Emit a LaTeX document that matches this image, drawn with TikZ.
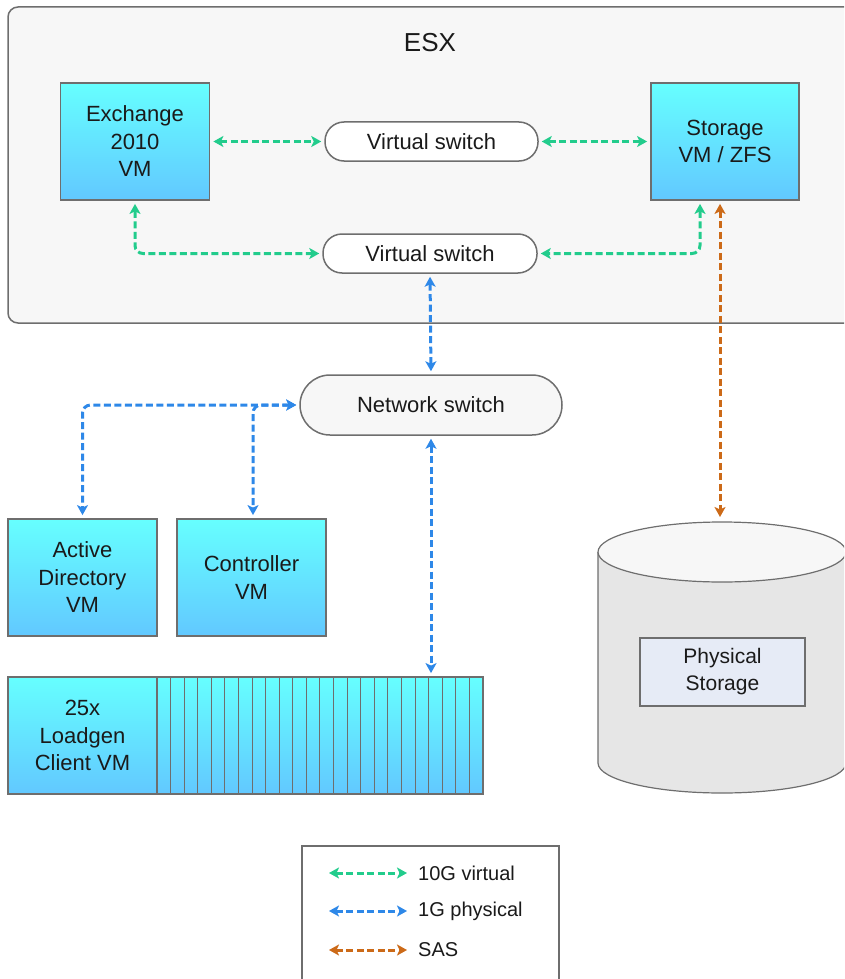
\documentclass[tikz,border=0pt]{standalone}
\usepackage{fontspec}
\setmainfont{Liberation Sans}
\usetikzlibrary{arrows.meta}

\definecolor{vmtop}{HTML}{66FFFF}
\definecolor{vmbot}{HTML}{62C8FF}
\definecolor{boxline}{HTML}{6E6E6E}
\definecolor{esxfill}{HTML}{F7F7F7}
\definecolor{cylfill}{HTML}{E6E6E6}
\definecolor{storefill}{HTML}{E6EBF6}
\definecolor{virtgreen}{HTML}{22CC8C}
\definecolor{physblue}{HTML}{2E88E8}
\definecolor{sasorange}{HTML}{CC6A18}
\definecolor{textcol}{HTML}{1A1A1A}

\newcommand\vmfont{\fontsize{22}{27.5}\selectfont}

\begin{document}
\begin{tikzpicture}[x=1pt,y=-1pt,
  every node/.style={text=textcol},
  vmbox/.style={draw=boxline, line width=1.8pt, top color=vmtop, bottom color=vmbot,
    minimum width=149pt, minimum height=117pt, align=center, font=\vmfont, inner sep=0pt},
  switchbox/.style={draw=boxline, line width=1.5pt, fill=white, rounded corners=19pt,
    minimum width=213pt, minimum height=39pt, font=\vmfont, inner sep=0pt},
  link/.style={<->, >={Stealth[length=10pt,width=11pt,inset=2.5pt]}, line width=3pt,
    dash pattern=on 7pt off 3.5pt, shorten >=3pt, shorten <=3pt},
  virt/.style={link, draw=virtgreen},
  phys/.style={link, draw=physblue},
  sas/.style={link, draw=sasorange},
  legendtext/.style={anchor=west, inner xsep=8pt, font=\fontsize{20}{24}\selectfont}
]
\useasboundingbox (0,0) rectangle (844,979);
\clip (0,0) rectangle (844,979);

% ESX host
\draw[draw=boxline, line width=1.5pt, fill=esxfill, rounded corners=10pt] (8,7) rectangle (860,323);
\node[font=\fontsize{26}{30}\selectfont] (esxlabel) at (430,43) {ESX};

\node[vmbox] (exch) at (135,141.5) {Exchange\\2010\\VM};
\node[vmbox, minimum width=148pt] (store) at (725,141.5) {Storage\\VM / ZFS};
\node[switchbox] (vsa) at (431.5,141.5) {Virtual switch};
\node[switchbox, minimum width=214pt] (vsb) at (430,253.5) {Virtual switch};

% Network side
\node[switchbox, fill=esxfill, rounded corners=30pt, minimum width=262pt, minimum height=60pt] (netsw) at (431,405) {Network switch};
\node[vmbox] (ad) at (82.5,577.5) {Active\\Directory\\VM};
\node[vmbox] (ctrl) at (251.5,577.5) {Controller\\VM};

% Loadgen clients
\foreach \i in {0,...,23}
  \draw[draw=boxline, line width=1pt, top color=vmtop, bottom color=vmbot] ({157+13.58*\i},677) rectangle +(13.58,117);
\draw[draw=boxline, line width=1.8pt] (157,677) rectangle (483,794);
\node[vmbox] (lg) at (82.5,735.5) {25x\\Loadgen\\Client VM};

% Physical storage cylinder
\fill[cylfill] (598,552) -- (598,763) arc[start angle=180, end angle=0, x radius=124, y radius=30] -- (846,552) -- cycle;
\draw[draw=boxline, line width=1.2pt] (598,552) -- (598,763) arc[start angle=180, end angle=0, x radius=124, y radius=30] -- (846,552);
\draw[draw=boxline, line width=1.2pt, fill=esxfill] (722,552) ellipse[x radius=124, y radius=30];
\coordinate (cyltop) at (720,520);
\node[draw=boxline, line width=1.5pt, fill=storefill, minimum width=165pt, minimum height=68pt,
  align=center, font=\fontsize{21}{27}\selectfont, inner sep=0pt] (physstore) at (722.5,672) {Physical\\Storage};

% Connections
\draw[virt] (exch.east) -- (vsa.west);
\draw[virt] (vsa.east) -- (store.west);
\draw[virt, rounded corners=8pt] (exch.south) |- (vsb.west);
\draw[virt, rounded corners=8pt] ([xshift=-25pt]store.south) |- (vsb.east);
\draw[sas] (store.south -| cyltop) -- (cyltop);
\draw[phys] (vsb.south) -- (netsw.north);
\draw[phys, rounded corners=8pt] (netsw.west) -| (ad.north);
\draw[phys, rounded corners=8pt] (netsw.west) -| ([xshift=1.5pt]ctrl.north);
\draw[phys] (netsw.south) -- (netsw.south |- lg.north);

% Legend
\draw[draw=boxline, line width=1.5pt, fill=white] (302,846) rectangle (559,1000);
\foreach \y/\sty/\txt/\nm in {873/virt/10G virtual/lgv, 911/phys/1G physical/lgp, 950/sas/SAS/lgs}{
  \node[legendtext] (\nm) at (410,\y) {\txt};
  \coordinate (\nm start) at (329,\y);
  \draw[\sty, shorten <=0pt] (\nm start) -- (\nm.west);
}
\end{tikzpicture}
\end{document}
